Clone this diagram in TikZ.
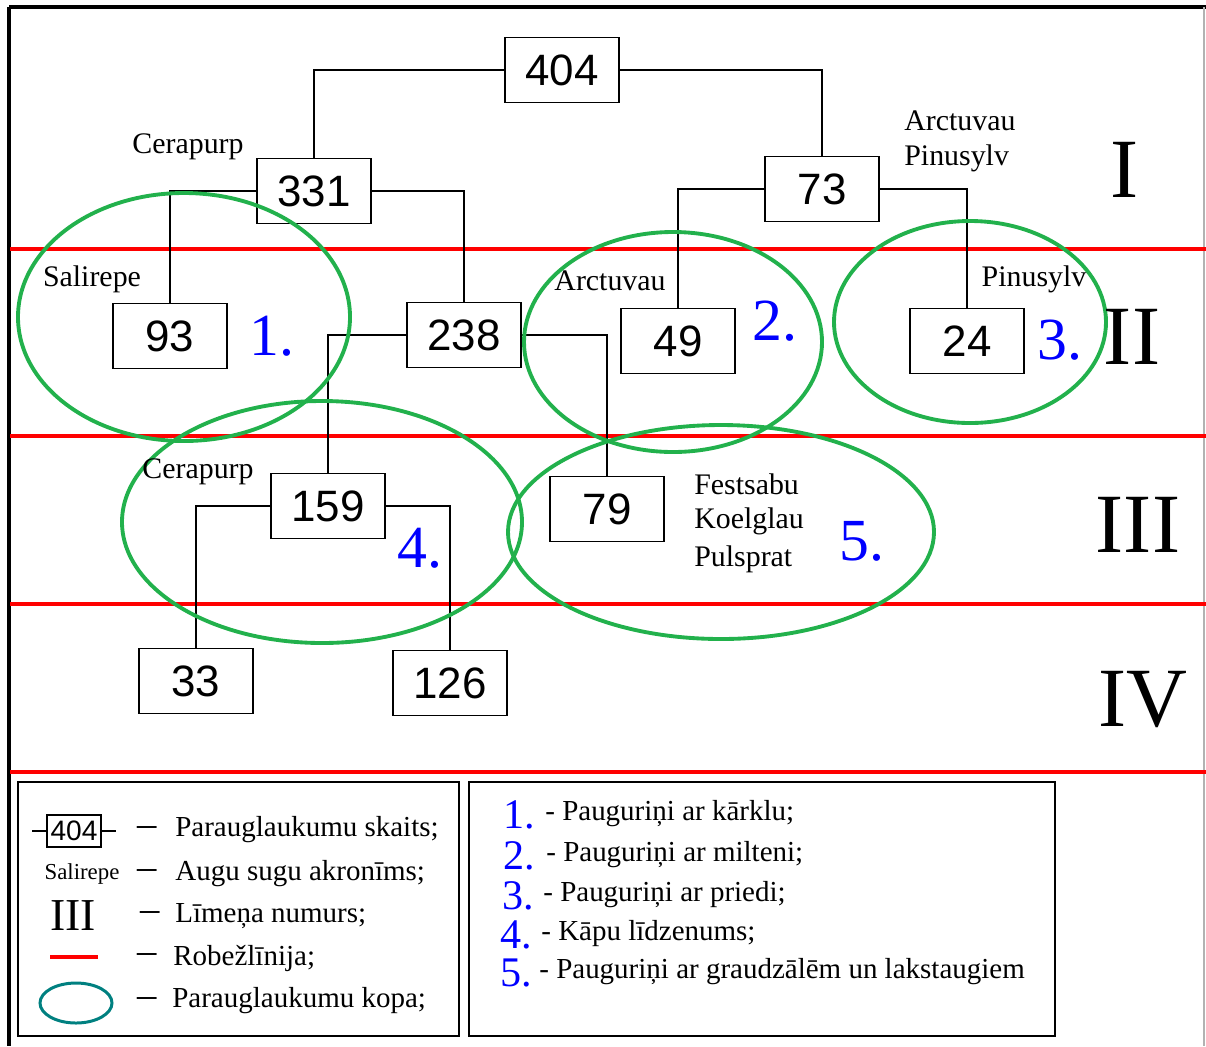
\documentclass[tikz,border=0pt]{standalone}
\usepackage{fontspec}
\setmainfont{Liberation Serif}
\newfontfamily\countfont{Liberation Sans}
\usetikzlibrary{calc, positioning}

\definecolor{ringgreen}{RGB}{34,177,76}
\definecolor{ringteal}{RGB}{0,128,128}
\definecolor{numblue}{RGB}{0,0,255}

\tikzset{
    count_box/.style={rectangle, draw, line width=1.1pt, fill=white, minimum width=2.28cm, minimum height=1.3cm, inner sep=0pt, font=\countfont\fontsize{25}{25}\selectfont},
    link/.style={line width=0.8pt},
    border_line/.style={red, line width=2.8pt},
    group_ring/.style={ringgreen, line width=2.2pt},
    taxon/.style={font=\fontsize{17}{17}\selectfont, inner sep=0pt},
    group_num/.style={numblue, font=\fontsize{34}{34}\selectfont, inner sep=0pt},
    level_num/.style={font=\fontsize{48}{48}\selectfont, inner sep=0pt},
    legend_text/.style={font=\fontsize{16.5}{16.5}\selectfont, inner sep=0pt, anchor=west},
    legend_dash/.style={font=\fontsize{22}{22}\selectfont, inner sep=0pt, anchor=west},
    legend_num/.style={numblue, font=\fontsize{24}{24}\selectfont, inner sep=0pt, text height=15pt, text depth=0pt, anchor=west},
}

\begin{document}
\begin{tikzpicture}[x=0.02cm, y=-0.02cm]
    \useasboundingbox (0, 0) rectangle (1206, 1046);

    % frame
    \draw[line width=2.2pt] (9, 7) -- (1206, 7);
    \draw[line width=2.2pt] (9, 7) -- (9, 1046);
    \draw[gray!60, line width=0.6pt] (1204, 7) -- (1204, 1046);

    % level borders
    \draw[border_line] (10, 249) -- (1206, 249);
    \draw[border_line] (10, 436) -- (1206, 436);
    \draw[border_line] (10, 604) -- (1206, 604);
    \draw[border_line] (10, 772) -- (1206, 772);

    % count boxes
    \node[count_box] (box_404) at (562, 70) {404};
    \node[count_box] (box_331) at (314, 191) {331};
    \node[count_box] (box_73) at (822, 189) {73};
    \node[count_box] (box_93) at (170, 336) {93};
    \node[count_box] (box_238) at (464, 335) {238};
    \node[count_box] (box_49) at (678, 341) {49};
    \node[count_box] (box_24) at (967, 341) {24};
    \node[count_box] (box_159) at (328, 506) {159};
    \node[count_box] (box_79) at (607, 509) {79};
    \node[count_box] (box_33) at (196, 681) {33};
    \node[count_box] (box_126) at (450, 683) {126};

    \draw[link] (box_404.west) -| (box_331.north);
    \draw[link] (box_404.east) -| (box_73.north);
    \draw[link] (box_331.west) -| (box_93.north);
    \draw[link] (box_331.east) -| (box_238.north);
    \draw[link] (box_73.west) -| (box_49.north);
    \draw[link] (box_73.east) -| (box_24.north);
    \draw[link] (box_238.west) -| (box_159.north);
    \draw[link] (box_238.east) -| (box_79.north);
    \draw[link] (box_159.west) -| (box_33.north);
    \draw[link] (box_159.east) -| (box_126.north);

    % sample groups
    \draw[group_ring] (184, 317) ellipse [x radius=166, y radius=124];
    \draw[group_ring] (673, 342) ellipse [x radius=149, y radius=110];
    \draw[group_ring] (970, 322) ellipse [x radius=136, y radius=101];
    \draw[group_ring] (322, 522) ellipse [x radius=200, y radius=121];
    \draw[group_ring] (721, 532) ellipse [x radius=213, y radius=107];

    % taxa
    \node[taxon] (cera_top) at (188, 147) {Cerapurp};
    \node[taxon, anchor=west] (arct_top) at (904, 121) {Arctuvau};
    \node[taxon, anchor=west] (pinu_top) at (904, 158) {Pinusylv};
    \node[taxon] (sali) at (92, 279) {Salirepe};
    \node[taxon] (arct) at (610, 281) {Arctuvau};
    \node[taxon] (pinu) at (1034, 279) {Pinusylv};
    \node[taxon] (cera_low) at (198, 472) {Cerapurp};
    \node[taxon, anchor=west] (fest) at (694, 484) {Festsabu};
    \node[taxon, anchor=west] (koel) at (694, 521) {Koelglau};
    \node[taxon, anchor=west] (puls) at (694, 559) {Pulsprat};

    \node[group_num] (group_one) at (272, 336) {1.};
    \node[group_num] (group_two) at (775, 321) {2.};
    \node[group_num] (group_three) at (1060, 340) {3.};
    \node[group_num] (group_four) at (420, 548) {4.};
    \node[group_num] (group_five) at (862, 541) {5.};

    \node[level_num] (level_one) at (1125, 170) {I};
    \node[level_num] (level_two) at (1132, 337) {II};
    \node[level_num] (level_three) at (1138, 525) {III};
    \node[level_num] (level_four) at (1143, 700) {IV};

    % legend, left part
    \draw[line width=1pt] (18, 782) rectangle (459, 1036);
    \node[rectangle, draw, line width=0.8pt, minimum width=1.08cm, minimum height=0.64cm, inner sep=0pt, font=\countfont\fontsize{16}{16}\selectfont] (key_box) at (74, 831) {404};
    \draw[link] (key_box.west) -- ++(-14, 0);
    \draw[link] (key_box.east) -- ++(14, 0);
    \node[font=\fontsize{13}{13}\selectfont, inner sep=0pt] (key_taxon) at (82, 874) {Salirepe};
    \node[font=\fontsize{26}{26}\selectfont, inner sep=0pt] (key_level) at (73, 916) {III};
    \draw[border_line] (50, 957) -- (98, 957);
    \draw[ringteal, line width=1.7pt] (76, 1003) ellipse [x radius=36, y radius=20];

    \node[legend_dash] (dash_one) at (137, 831) {–};
    \node[legend_dash] (dash_two) at (137, 874) {–};
    \node[legend_dash] (dash_three) at (140, 916) {–};
    \node[legend_dash] (dash_four) at (137, 958) {–};
    \node[legend_dash] (dash_five) at (137, 1002) {–};

    \node[legend_text] (key_text_one) at (175, 830) {Parauglaukumu skaits;};
    \node[legend_text] (key_text_two) at (175, 874) {Augu sugu akronīms;};
    \node[legend_text] (key_text_three) at (175, 916) {Līmeņa numurs;};
    \node[legend_text] (key_text_four) at (173, 958) {Robežlīnija;};
    \node[legend_text] (key_text_five) at (172, 1001) {Parauglaukumu kopa;};

    % legend, right part
    \draw[line width=1pt] (469, 782) rectangle (1055, 1036);
    \node[legend_num] (key_num_one) at (503, 815) {1.};
    \node[legend_num] (key_num_two) at (503, 856) {2.};
    \node[legend_num] (key_num_three) at (502, 896) {3.};
    \node[legend_num] (key_num_four) at (500, 935) {4.};
    \node[legend_num] (key_num_five) at (500, 973) {5.};

    \node[legend_text] (group_text_one) at (545, 814) {- Pauguriņi ar kārklu;};
    \node[legend_text] (group_text_two) at (546, 855) {- Pauguriņi ar milteni;};
    \node[legend_text] (group_text_three) at (543, 895) {- Pauguriņi ar priedi;};
    \node[legend_text] (group_text_four) at (541, 934) {- Kāpu līdzenums;};
    \node[legend_text] (group_text_five) at (539, 972) {- Pauguriņi ar graudzālēm un lakstaugiem};
\end{tikzpicture}
\end{document}
